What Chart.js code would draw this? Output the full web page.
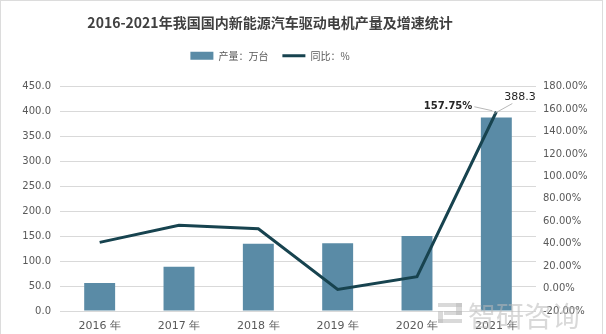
<!DOCTYPE html>
<html>
<head>
<meta charset="utf-8">
<script src="https://cdn.jsdelivr.net/npm/chart.js@4/dist/chart.umd.min.js"></script>
<style>
html,body{margin:0;padding:0;background:#fff}
canvas{display:block}
</style>
</head>
<body>
<canvas id="motorChart" width="606" height="334"></canvas>
<script>
const years = ["2016 年","2017 年","2018 年","2019 年","2020 年","2021 年"]
const output = [56, 89, 135, 136, 150.6, 388.3]
const growth = [41.2, 56.4, 53.4, -0.8, 10.6, 157.75]
const leftTicks = [0, 450, 50]
const rightTicks = [-20, 180, 20]

const barColor = "#5a8ba6"
const lineColor = "#17434f"
const textColor = "#595959"

// header sits a bit left of centre, and leaves a gap above the plot
const headerShift = {
id:"headerShift",
beforeInit(chart){
const fit = chart.legend.fit
chart.legend.fit = function(){
fit.call(this)
this.height += 16
}
},
afterLayout(chart){
chart.titleBlock.left = 0
chart.titleBlock.right = 540
chart.legend.left = 0
chart.legend.right = 540
}
}

// frame, value labels and the watermark in the corner
const extras = {
id:"extras",
afterDatasetsDraw(chart){
const ctx = chart.ctx
const bar = chart.getDatasetMeta(0).data[5]
const pt = chart.getDatasetMeta(1).data[5]
ctx.save()
ctx.strokeStyle = "#a6a6a6"
ctx.lineWidth = 0.8
ctx.beginPath()
ctx.moveTo(pt.x-22, pt.y-5)
ctx.lineTo(pt.x-4, pt.y-1)
ctx.moveTo(bar.x-2, bar.y-4)
ctx.lineTo(bar.x+16, bar.y-14)
ctx.stroke()
ctx.fillStyle = "#262626"
ctx.font = "bold 10px 'DejaVu Sans'"
ctx.textBaseline = "middle"
ctx.textAlign = "right"
ctx.fillText(growth[5].toFixed(2)+"%", pt.x-24, pt.y-5)
ctx.font = "11px 'DejaVu Sans'"
ctx.textAlign = "left"
ctx.fillText(output[5].toFixed(1), bar.x+8, bar.y-20)
ctx.restore()
},
afterDraw(chart){
const ctx = chart.ctx
ctx.save()
ctx.strokeStyle = "#dcdcdc"
ctx.lineWidth = 1
ctx.strokeRect(0.5, 0.5, 602, 360)
// watermark logo + name
ctx.fillStyle = "rgba(185,185,185,0.55)"
ctx.fillRect(438, 303, 24, 4)
ctx.fillRect(456, 303, 6, 12)
ctx.fillRect(444, 311, 18, 4)
ctx.fillRect(438, 311, 5, 12)
ctx.fillRect(438, 319, 24, 4)
ctx.font = "28px 'Noto Sans CJK SC'"
ctx.textBaseline = "alphabetic"
ctx.textAlign = "left"
ctx.fillText("智研咨询", 468, 327)
ctx.restore()
}
}

new Chart(document.getElementById("motorChart"),{
type:"bar",
data:{
labels:years,
datasets:[{
label:"产量：万台",
data:output,
backgroundColor:barColor,
yAxisID:"y",
order:1,
barPercentage:0.39,
categoryPercentage:1
},{
type:"line",
label:"同比：%",
data:growth,
borderColor:lineColor,
backgroundColor:lineColor,
borderWidth:3,
pointRadius:0,
tension:0,
yAxisID:"y1",
order:0
}]
},
options:{
responsive:false,
animation:false,
devicePixelRatio:1,
layout:{padding:0},
plugins:{
tooltip:{enabled:false},
title:{
display:true,
text:"2016-2021年我国国内新能源汽车驱动电机产量及增速统计",
color:"#404040",
font:{family:"'Noto Sans CJK SC'",size:14,weight:"bold"},
padding:{top:14,bottom:6}
},
legend:{
display:true,
labels:{
color:textColor,
font:{family:"'Noto Sans CJK SC'",size:10},
usePointStyle:true,
pointStyleWidth:23,
boxHeight:8,
padding:14,
generateLabels(chart){
return chart.data.datasets.map((ds,i)=>({
text:ds.label,
fillStyle:ds.backgroundColor,
strokeStyle:ds.type==="line"?lineColor:barColor,
lineWidth:ds.type==="line"?3:0,
pointStyle:ds.type==="line"?"line":"rect",
fontColor:textColor,
datasetIndex:i,
hidden:false
}))
}
}
}
},
scales:{
x:{
grid:{display:false,drawTicks:false},
border:{display:false},
ticks:{color:textColor,font:{family:"'DejaVu Sans'",size:11},padding:9,maxRotation:0},
afterFit(s){s.height=23}
},
y:{
position:"left",
min:leftTicks[0],max:leftTicks[1],
ticks:{stepSize:leftTicks[2],color:textColor,font:{family:"'DejaVu Sans'",size:10},padding:9,callback:v=>v.toFixed(1)},
grid:{color:"#d9d9d9",drawTicks:false},
border:{display:false},
afterFit(s){s.width=60}
},
y1:{
position:"right",
min:rightTicks[0],max:rightTicks[1],
ticks:{stepSize:rightTicks[2],color:textColor,font:{family:"'DejaVu Sans'",size:10},padding:7,callback:v=>v.toFixed(2)+"%"},
grid:{display:false,drawTicks:false},
border:{display:false},
afterFit(s){s.width=70}
}
}
},
plugins:[headerShift, extras]
})
</script>
</body>
</html>
